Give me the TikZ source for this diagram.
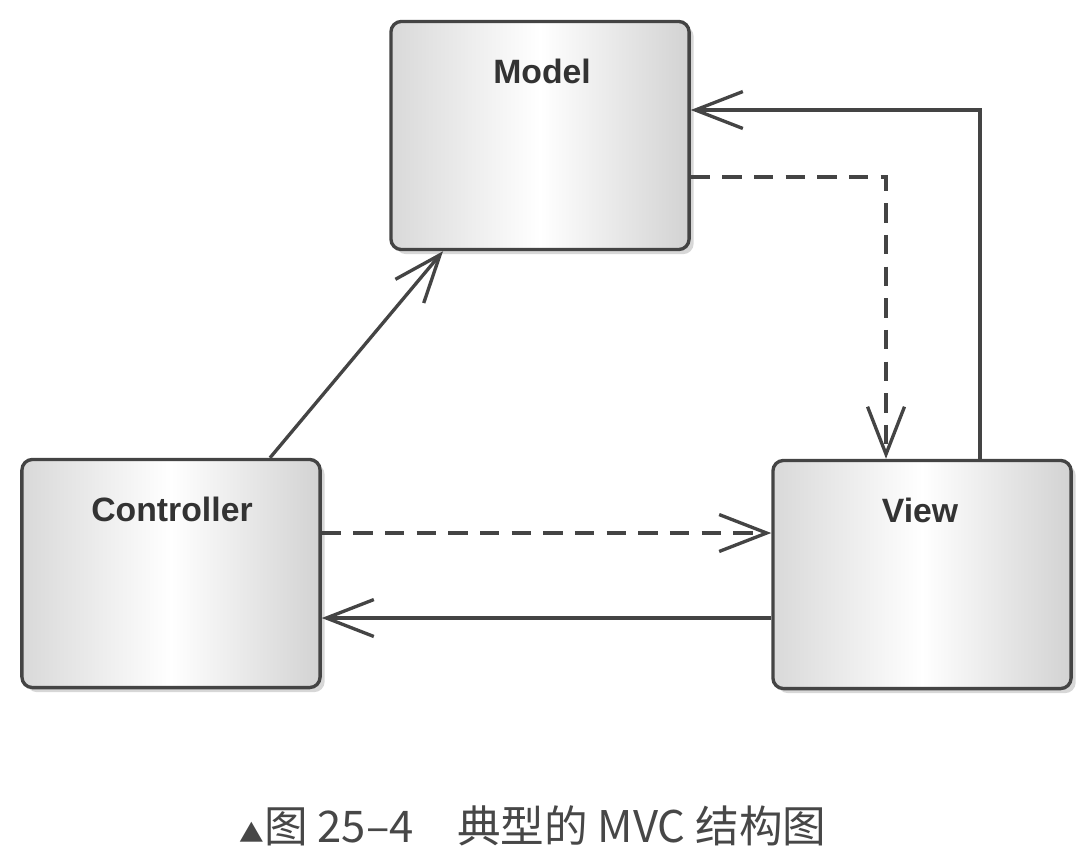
\documentclass[tikz,border=0pt]{standalone}
\usepackage{fontspec}
\setmainfont{Liberation Sans}
\newfontfamily\cjk{Noto Sans CJK SC}
\usetikzlibrary{arrows.meta,shadows}
\definecolor{ln}{HTML}{444444}
\definecolor{tx}{HTML}{333333}
\tikzset{
  umlbox/.style={draw=ln, line width=0.95pt, rounded corners=3pt,
    minimum width=2.98cm, minimum height=2.28cm, inner sep=0pt,
    left color=gray!30, right color=gray!35, middle color=white,
    drop shadow={shadow xshift=1.3pt, shadow yshift=-1.3pt, fill=gray!45, opacity=0.7}},
  lbl/.style={font=\bfseries\fontsize{9.6pt}{11pt}\selectfont, text=tx, inner sep=0pt},
  conn/.style={draw=ln, line width=0.95pt, -{Straight Barb[length=13.5pt, width=10.5pt, line width=0.95pt]}},
  dashconn/.style={conn, dash pattern=on 5.5pt off 3.5pt},
}
\begin{document}
\begin{tikzpicture}[x=0.01cm, y=-0.01cm]
\useasboundingbox (0,0) rectangle (1092,866);
\node[umlbox] (model) at (540,135.5) {};
\node[umlbox] (ctrl) at (171,573.5) {};
\node[umlbox] (view) at (922,574.5) {};
\node[lbl] (modelT) at (542,71) {Model};
\node[lbl] (ctrlT) at (172,509) {Controller};
\node[lbl] (viewT) at (920,510) {View};
\coordinate (c270) at (270,0);
\coordinate (c443) at (443,0);
\coordinate (c980) at (980,0);
\coordinate (c886) at (886,0);
\coordinate (r110) at (0,110);
\coordinate (r177) at (0,177);
\coordinate (r533) at (0,533);
\coordinate (r618) at (0,618);
% Controller -> Model
\draw[conn] (ctrl.north -| c270) -- (model.south -| c443);
% View -> Model
\draw[conn] (view.north -| c980) -- (c980 |- r110) -- (model.east |- r110);
% Model -> View (dashed)
\draw[dashconn] (model.east |- r177) -- (c886 |- r177) -- (view.north -| c886);
% Controller -> View (dashed)
\draw[dashconn] (ctrl.east |- r533) -- (view.west |- r533);
% View -> Controller
\draw[conn] (view.west |- r618) -- (ctrl.east |- r618);
\node[text=black!72, inner sep=0pt] (cap) at (533,826) {\cjk\fontsize{12.4pt}{14pt}\selectfont{\fontsize{7pt}{8pt}\selectfont ▲}图 25–4\quad 典型的 MVC 结构图};
\end{tikzpicture}
\end{document}
